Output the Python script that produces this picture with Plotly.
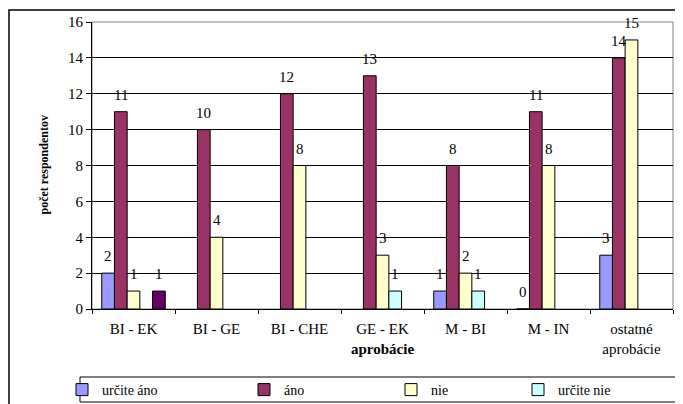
import plotly.graph_objects as go

# data
categories = ['BI - EK', 'BI - GE', 'BI - CHE', 'GE - EK', 'M - BI', 'M - IN', 'ostatné<br>aprobácie']
urcite_ano = [2, None, None, None, 1, 0, 3]
ano = [11, 10, 12, 13, 8, 11, 14]
nie = [1, 4, 8, 3, 2, 8, 15]
urcite_nie = [None, None, None, 1, 1, None, None]
extra = [1, None, None, None, None, None, None]  # stray dark bar in BI - EK, not in legend

series = [
    ('určite áno', urcite_ano, '#9999FF', 'legend'),
    ('áno', ano, '#993366', 'legend2'),
    ('nie', nie, '#FFFFCC', 'legend3'),
    ('určite nie', urcite_nie, '#CCFFFF', 'legend4'),
    ('', extra, '#660066', None),
]

# the page body has an 8px margin, so the figure is laid out 8px smaller
OFF = 8
W, H = 683 - OFF, 404 - OFF
ML, MR, MT, MB = 92 - OFF, 10, 22 - OFF, 95
PW, PH = W - ML - MR, H - MT - MB
BARGAP = 0.235
FONT = 'Liberation Serif, Times New Roman, serif'


def px_x(p):
    # p is a pixel column in the reference picture
    return (p - OFF - ML) / PW


def px_y(p):
    return (H - MB - (p - OFF)) / PH


fig = go.Figure()
for name, vals, color, leg in series:
    fig.add_trace(go.Bar(
        x=categories, y=vals, name=name,
        marker=dict(color=color, line=dict(color='black', width=1)),
        showlegend=leg is not None,
        legend=leg if leg else 'legend',
        hoverinfo='x+y',
    ))

# data labels, sitting a bit above each bar like in Excel
slot = PW / len(categories) * (1 - BARGAP) / len(series)
for i, (name, vals, color, leg) in enumerate(series):
    for cat, v in zip(categories, vals):
        if v is None:
            continue
        fig.add_annotation(x=cat, y=v, text=str(v), showarrow=False,
                           xshift=(i - 2) * slot, yshift=17, yanchor='middle',
                           font=dict(family=FONT, size=15, color='black'))

# axis titles
fig.add_annotation(x=0.5, y=px_y(349), xref='paper', yref='paper', text='<b>aprobácie</b>',
                   xanchor='center', yanchor='middle', showarrow=False,
                   font=dict(family=FONT, size=15, color='black'))
fig.add_annotation(x=px_x(43), y=0.5, xref='paper', yref='paper', text='<b>počet respondentov</b>',
                   xanchor='center', yanchor='middle', textangle=-90, showarrow=False,
                   font=dict(family=FONT, size=12, color='black'))

# plot area frame, legend box, outer chart frame
fig.add_shape(type='rect', xref='paper', yref='paper', x0=0, x1=1, y0=0, y1=1,
              line=dict(color='#808080', width=1), layer='below')
fig.add_shape(type='rect', xref='paper', yref='paper', x0=px_x(80), x1=px_x(680),
              y0=px_y(402), y1=px_y(377), line=dict(color='black', width=1))
fig.add_shape(type='rect', xref='paper', yref='paper', x0=px_x(9), x1=px_x(700),
              y0=px_y(430), y1=px_y(10), line=dict(color='black', width=1.5))

leg_common = dict(orientation='h', yanchor='middle', y=px_y(390), xanchor='left',
                  font=dict(family=FONT, size=14, color='black'), bgcolor='rgba(0,0,0,0)')
fig.update_layout(
    width=W, height=H,
    margin=dict(l=ML, r=MR, t=MT, b=MB, autoexpand=False),
    paper_bgcolor='white', plot_bgcolor='white',
    barmode='group', bargap=BARGAP, bargroupgap=0,
    font=dict(family=FONT, size=14, color='black'),
    legend=dict(x=px_x(62), **leg_common),
    legend2=dict(x=px_x(244), **leg_common),
    legend3=dict(x=px_x(391), **leg_common),
    legend4=dict(x=px_x(518), **leg_common),
    xaxis=dict(type='category', tickson='boundaries', ticks='outside', ticklen=4,
               tickcolor='black', showline=True, linecolor='black', linewidth=1,
               showgrid=False, tickfont=dict(family=FONT, size=15, color='black'),
               ticklabelstandoff=6, automargin=False, fixedrange=True),
    yaxis=dict(range=[0, 16], dtick=2, ticks='outside', ticklen=5, tickcolor='black',
               showline=True, linecolor='black', linewidth=1,
               showgrid=True, gridcolor='black', gridwidth=1, zeroline=False,
               tickfont=dict(family=FONT, size=15, color='black'),
               automargin=False, fixedrange=True),
)

fig.write_html("out.html")
